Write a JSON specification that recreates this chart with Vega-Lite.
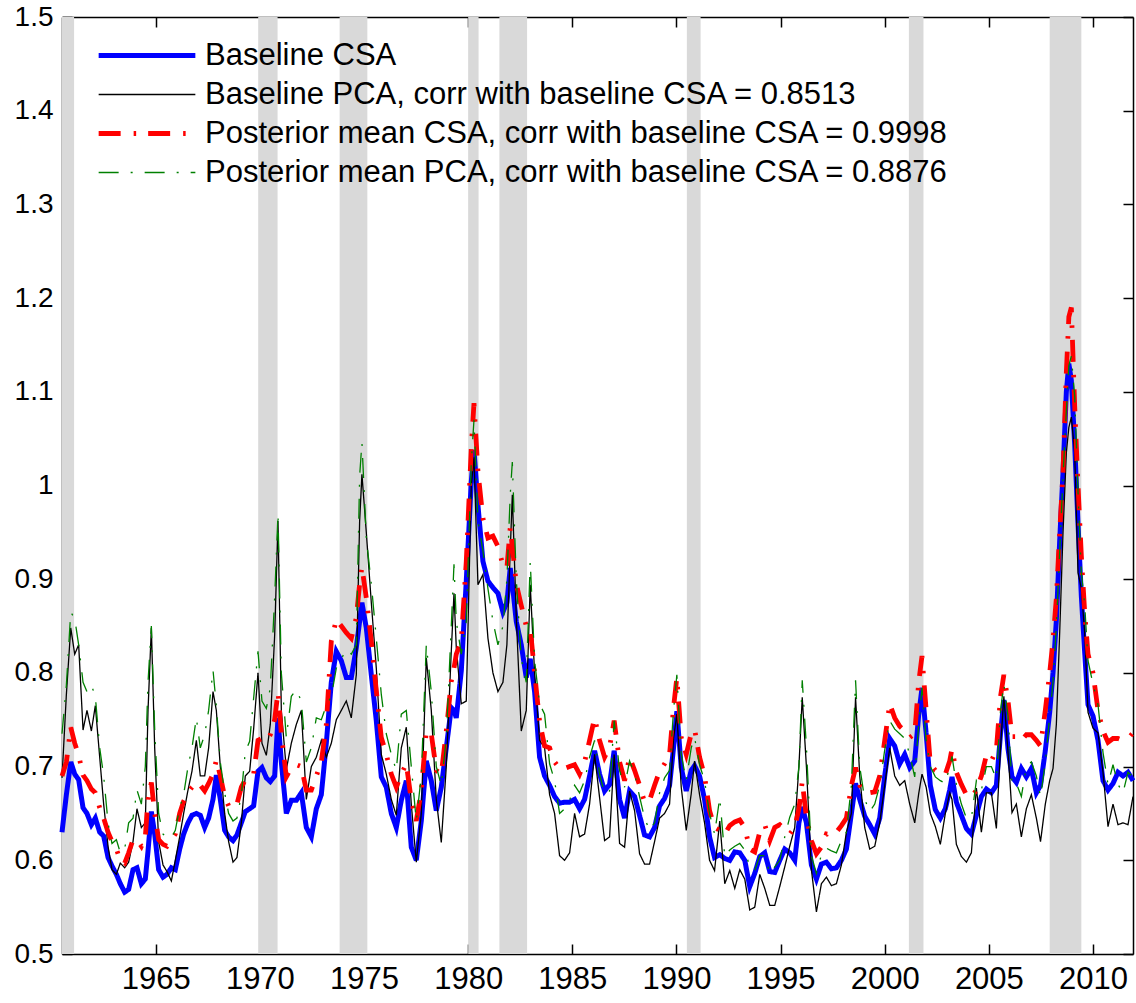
{
  "$schema": "https://vega.github.io/schema/vega-lite/v6.json",
  "width": 1071,
  "height": 937,
  "autosize": {"type": "none"},
  "padding": {"left": 62, "top": 17, "right": 3, "bottom": 49},
  "background": "white",
  "config": {
    "font": "Liberation Sans",
    "view": {"stroke": null},
    "axis": {
      "grid": false,
      "title": null,
      "domainColor": "black",
      "domainWidth": 1.5,
      "tickColor": "black",
      "tickWidth": 1.5,
      "tickSize": -10,
      "labelColor": "black",
      "labelFontSize": 31,
      "labelFont": "Liberation Sans"
    },
    "legend": {
      "orient": "none",
      "legendX": 34,
      "legendY": 19,
      "padding": 0,
      "symbolType": "stroke",
      "symbolSize": 9350,
      "clipHeight": 39,
      "rowPadding": 0,
      "labelFontSize": 31,
      "labelFont": "Liberation Sans",
      "labelColor": "black",
      "labelOffset": 7,
      "labelLimit": 1000
    }
  },
  "datasets": {
    "recessions": [
      {"s": 1960.5, "e": 1961.08},
      {"s": 1969.92, "e": 1970.85},
      {"s": 1973.83, "e": 1975.16},
      {"s": 1980.0, "e": 1980.5},
      {"s": 1981.5, "e": 1982.83},
      {"s": 1990.5, "e": 1991.16},
      {"s": 2001.16, "e": 2001.86},
      {"s": 2007.92, "e": 2009.44}
    ],
    "stress": [
      {"t": 1960.5, "csa": 0.630, "pca": 0.688, "pcsa": 0.690, "ppca": 0.735},
      {"t": 1960.71, "csa": 0.670, "pca": 0.777, "pcsa": 0.705, "ppca": 0.787},
      {"t": 1960.92, "csa": 0.705, "pca": 0.848, "pcsa": 0.742, "ppca": 0.865},
      {"t": 1961.11, "csa": 0.692, "pca": 0.820, "pcsa": 0.725, "ppca": 0.858},
      {"t": 1961.3, "csa": 0.686, "pca": 0.830, "pcsa": 0.712, "ppca": 0.830},
      {"t": 1961.51, "csa": 0.656, "pca": 0.739, "pcsa": 0.691, "ppca": 0.790},
      {"t": 1961.7, "csa": 0.650, "pca": 0.760, "pcsa": 0.685, "ppca": 0.780},
      {"t": 1961.91, "csa": 0.638, "pca": 0.738, "pcsa": 0.676, "ppca": 0.787},
      {"t": 1962.1, "csa": 0.645, "pca": 0.765, "pcsa": 0.672, "ppca": 0.775},
      {"t": 1962.31, "csa": 0.630, "pca": 0.710, "pcsa": 0.656, "ppca": 0.720},
      {"t": 1962.5, "csa": 0.626, "pca": 0.660, "pcsa": 0.645, "ppca": 0.690},
      {"t": 1962.71, "csa": 0.603, "pca": 0.615, "pcsa": 0.630, "ppca": 0.640},
      {"t": 1962.9, "csa": 0.594, "pca": 0.590, "pcsa": 0.620, "ppca": 0.618},
      {"t": 1963.11, "csa": 0.585, "pca": 0.585, "pcsa": 0.612, "ppca": 0.622},
      {"t": 1963.3, "csa": 0.575, "pca": 0.597, "pcsa": 0.600, "ppca": 0.608},
      {"t": 1963.51, "csa": 0.566, "pca": 0.592, "pcsa": 0.597, "ppca": 0.612},
      {"t": 1963.7, "csa": 0.569, "pca": 0.598, "pcsa": 0.608, "ppca": 0.640},
      {"t": 1963.91, "csa": 0.590, "pca": 0.620, "pcsa": 0.622, "ppca": 0.645},
      {"t": 1964.1, "csa": 0.592, "pca": 0.655, "pcsa": 0.622, "ppca": 0.675},
      {"t": 1964.31, "csa": 0.575, "pca": 0.635, "pcsa": 0.615, "ppca": 0.660},
      {"t": 1964.5, "csa": 0.580, "pca": 0.640, "pcsa": 0.625, "ppca": 0.700},
      {"t": 1964.63, "csa": 0.610, "pca": 0.760, "pcsa": 0.665, "ppca": 0.790},
      {"t": 1964.79, "csa": 0.652, "pca": 0.848, "pcsa": 0.683, "ppca": 0.850},
      {"t": 1964.95, "csa": 0.628, "pca": 0.720, "pcsa": 0.650, "ppca": 0.740},
      {"t": 1965.14, "csa": 0.590, "pca": 0.620, "pcsa": 0.622, "ppca": 0.650},
      {"t": 1965.35, "csa": 0.582, "pca": 0.595, "pcsa": 0.617, "ppca": 0.628},
      {"t": 1965.54, "csa": 0.585, "pca": 0.588, "pcsa": 0.615, "ppca": 0.624},
      {"t": 1965.75, "csa": 0.592, "pca": 0.578, "pcsa": 0.622, "ppca": 0.624},
      {"t": 1965.94, "csa": 0.590, "pca": 0.600, "pcsa": 0.628, "ppca": 0.632},
      {"t": 1966.15, "csa": 0.612, "pca": 0.625, "pcsa": 0.650, "ppca": 0.656},
      {"t": 1966.34, "csa": 0.628, "pca": 0.650, "pcsa": 0.663, "ppca": 0.670},
      {"t": 1966.55, "csa": 0.640, "pca": 0.675, "pcsa": 0.672, "ppca": 0.700},
      {"t": 1966.74, "csa": 0.648, "pca": 0.695, "pcsa": 0.678, "ppca": 0.720},
      {"t": 1966.95, "csa": 0.650, "pca": 0.728, "pcsa": 0.683, "ppca": 0.752},
      {"t": 1967.14, "csa": 0.648, "pca": 0.690, "pcsa": 0.680, "ppca": 0.720},
      {"t": 1967.35, "csa": 0.635, "pca": 0.690, "pcsa": 0.674, "ppca": 0.734},
      {"t": 1967.54, "csa": 0.645, "pca": 0.720, "pcsa": 0.682, "ppca": 0.760},
      {"t": 1967.75, "csa": 0.665, "pca": 0.780, "pcsa": 0.692, "ppca": 0.803},
      {"t": 1967.91, "csa": 0.691, "pca": 0.760, "pcsa": 0.707, "ppca": 0.765},
      {"t": 1968.1, "csa": 0.665, "pca": 0.700, "pcsa": 0.690, "ppca": 0.705},
      {"t": 1968.31, "csa": 0.632, "pca": 0.650, "pcsa": 0.668, "ppca": 0.672},
      {"t": 1968.5, "csa": 0.625, "pca": 0.620, "pcsa": 0.658, "ppca": 0.650},
      {"t": 1968.71, "csa": 0.621, "pca": 0.598, "pcsa": 0.656, "ppca": 0.642},
      {"t": 1968.9, "csa": 0.627, "pca": 0.603, "pcsa": 0.660, "ppca": 0.645},
      {"t": 1969.11, "csa": 0.640, "pca": 0.640, "pcsa": 0.678, "ppca": 0.670},
      {"t": 1969.3, "csa": 0.652, "pca": 0.690, "pcsa": 0.686, "ppca": 0.716},
      {"t": 1969.51, "csa": 0.655, "pca": 0.695, "pcsa": 0.690, "ppca": 0.727},
      {"t": 1969.7, "csa": 0.658, "pca": 0.740, "pcsa": 0.692, "ppca": 0.773},
      {"t": 1969.91, "csa": 0.695, "pca": 0.800, "pcsa": 0.728, "ppca": 0.823},
      {"t": 1970.1, "csa": 0.699, "pca": 0.725, "pcsa": 0.730, "ppca": 0.770},
      {"t": 1970.31, "csa": 0.688, "pca": 0.712, "pcsa": 0.727, "ppca": 0.762},
      {"t": 1970.5, "csa": 0.684, "pca": 0.745, "pcsa": 0.734, "ppca": 0.784},
      {"t": 1970.71, "csa": 0.690, "pca": 0.840, "pcsa": 0.750, "ppca": 0.880},
      {"t": 1970.87, "csa": 0.752, "pca": 0.962, "pcsa": 0.780, "ppca": 0.970},
      {"t": 1971.03, "csa": 0.705, "pca": 0.760, "pcsa": 0.735, "ppca": 0.800},
      {"t": 1971.27, "csa": 0.650, "pca": 0.697, "pcsa": 0.689, "ppca": 0.731},
      {"t": 1971.51, "csa": 0.664, "pca": 0.725, "pcsa": 0.699, "ppca": 0.775},
      {"t": 1971.75, "csa": 0.664, "pca": 0.745, "pcsa": 0.702, "ppca": 0.782},
      {"t": 1971.99, "csa": 0.672, "pca": 0.760, "pcsa": 0.700, "ppca": 0.770},
      {"t": 1972.23, "csa": 0.635, "pca": 0.665, "pcsa": 0.675, "ppca": 0.705},
      {"t": 1972.47, "csa": 0.625, "pca": 0.700, "pcsa": 0.675, "ppca": 0.720},
      {"t": 1972.71, "csa": 0.655, "pca": 0.710, "pcsa": 0.690, "ppca": 0.752},
      {"t": 1972.95, "csa": 0.670, "pca": 0.728, "pcsa": 0.705, "ppca": 0.750},
      {"t": 1973.19, "csa": 0.725, "pca": 0.710, "pcsa": 0.745, "ppca": 0.765},
      {"t": 1973.43, "csa": 0.790, "pca": 0.725, "pcsa": 0.834, "ppca": 0.775},
      {"t": 1973.67, "csa": 0.823, "pca": 0.750, "pcsa": 0.857, "ppca": 0.805},
      {"t": 1973.91, "csa": 0.813, "pca": 0.760, "pcsa": 0.850, "ppca": 0.815},
      {"t": 1974.15, "csa": 0.795, "pca": 0.770, "pcsa": 0.843, "ppca": 0.825},
      {"t": 1974.39, "csa": 0.795, "pca": 0.752, "pcsa": 0.837, "ppca": 0.820},
      {"t": 1974.63, "csa": 0.827, "pca": 0.798, "pcsa": 0.859, "ppca": 0.830},
      {"t": 1974.79, "csa": 0.855, "pca": 0.962, "pcsa": 0.895, "ppca": 1.010},
      {"t": 1974.9, "csa": 0.875, "pca": 1.012, "pcsa": 0.913, "ppca": 1.046},
      {"t": 1975.11, "csa": 0.848, "pca": 0.950, "pcsa": 0.880, "ppca": 0.944},
      {"t": 1975.35, "csa": 0.798, "pca": 0.875, "pcsa": 0.834, "ppca": 0.895},
      {"t": 1975.59, "csa": 0.749, "pca": 0.805, "pcsa": 0.781, "ppca": 0.837},
      {"t": 1975.83, "csa": 0.689, "pca": 0.713, "pcsa": 0.731, "ppca": 0.777},
      {"t": 1976.07, "csa": 0.678, "pca": 0.692, "pcsa": 0.713, "ppca": 0.735},
      {"t": 1976.31, "csa": 0.650, "pca": 0.665, "pcsa": 0.692, "ppca": 0.713},
      {"t": 1976.55, "csa": 0.635, "pca": 0.648, "pcsa": 0.678, "ppca": 0.696},
      {"t": 1976.79, "csa": 0.664, "pca": 0.720, "pcsa": 0.692, "ppca": 0.756},
      {"t": 1977.03, "csa": 0.685, "pca": 0.742, "pcsa": 0.703, "ppca": 0.760},
      {"t": 1977.27, "csa": 0.614, "pca": 0.660, "pcsa": 0.664, "ppca": 0.700},
      {"t": 1977.51, "csa": 0.600, "pca": 0.598, "pcsa": 0.642, "ppca": 0.642},
      {"t": 1977.75, "csa": 0.642, "pca": 0.650, "pcsa": 0.674, "ppca": 0.690},
      {"t": 1977.99, "csa": 0.706, "pca": 0.816, "pcsa": 0.738, "ppca": 0.830},
      {"t": 1978.23, "csa": 0.685, "pca": 0.760, "pcsa": 0.735, "ppca": 0.780},
      {"t": 1978.47, "csa": 0.653, "pca": 0.665, "pcsa": 0.696, "ppca": 0.700},
      {"t": 1978.71, "csa": 0.678, "pca": 0.619, "pcsa": 0.692, "ppca": 0.680},
      {"t": 1978.95, "csa": 0.720, "pca": 0.700, "pcsa": 0.738, "ppca": 0.730},
      {"t": 1979.19, "csa": 0.763, "pca": 0.823, "pcsa": 0.791, "ppca": 0.850},
      {"t": 1979.32, "csa": 0.760, "pca": 0.885, "pcsa": 0.805, "ppca": 0.916},
      {"t": 1979.43, "csa": 0.752, "pca": 0.827, "pcsa": 0.820, "ppca": 0.855},
      {"t": 1979.67, "csa": 0.802, "pca": 0.767, "pcsa": 0.834, "ppca": 0.820},
      {"t": 1979.91, "csa": 0.898, "pca": 0.770, "pcsa": 0.919, "ppca": 0.855},
      {"t": 1980.15, "csa": 1.004, "pca": 1.000, "pcsa": 1.040, "ppca": 1.025},
      {"t": 1980.28, "csa": 1.038, "pca": 1.030, "pcsa": 1.088, "ppca": 1.070},
      {"t": 1980.47, "csa": 0.979, "pca": 0.894, "pcsa": 1.015, "ppca": 0.962},
      {"t": 1980.71, "csa": 0.919, "pca": 0.905, "pcsa": 0.965, "ppca": 0.930},
      {"t": 1980.95, "csa": 0.898, "pca": 0.837, "pcsa": 0.944, "ppca": 0.890},
      {"t": 1981.19, "csa": 0.891, "pca": 0.800, "pcsa": 0.946, "ppca": 0.855},
      {"t": 1981.43, "csa": 0.885, "pca": 0.780, "pcsa": 0.935, "ppca": 0.830},
      {"t": 1981.67, "csa": 0.865, "pca": 0.790, "pcsa": 0.915, "ppca": 0.850},
      {"t": 1981.86, "csa": 0.875, "pca": 0.830, "pcsa": 0.912, "ppca": 0.900},
      {"t": 1982.02, "csa": 0.912, "pca": 0.930, "pcsa": 0.955, "ppca": 0.990},
      {"t": 1982.12, "csa": 0.895, "pca": 0.990, "pcsa": 0.935, "ppca": 1.025},
      {"t": 1982.31, "csa": 0.855, "pca": 0.860, "pcsa": 0.895, "ppca": 0.900},
      {"t": 1982.55, "csa": 0.830, "pca": 0.738, "pcsa": 0.872, "ppca": 0.815},
      {"t": 1982.79, "csa": 0.795, "pca": 0.760, "pcsa": 0.850, "ppca": 0.790},
      {"t": 1982.98, "csa": 0.815, "pca": 0.894, "pcsa": 0.848, "ppca": 0.919},
      {"t": 1983.19, "csa": 0.780, "pca": 0.800, "pcsa": 0.800, "ppca": 0.813},
      {"t": 1983.43, "csa": 0.710, "pca": 0.728, "pcsa": 0.748, "ppca": 0.767},
      {"t": 1983.67, "csa": 0.690, "pca": 0.720, "pcsa": 0.722, "ppca": 0.756},
      {"t": 1983.91, "csa": 0.680, "pca": 0.670, "pcsa": 0.720, "ppca": 0.703},
      {"t": 1984.15, "csa": 0.668, "pca": 0.650, "pcsa": 0.705, "ppca": 0.685},
      {"t": 1984.39, "csa": 0.661, "pca": 0.605, "pcsa": 0.698, "ppca": 0.650},
      {"t": 1984.63, "csa": 0.662, "pca": 0.600, "pcsa": 0.698, "ppca": 0.655},
      {"t": 1984.87, "csa": 0.662, "pca": 0.608, "pcsa": 0.700, "ppca": 0.664},
      {"t": 1985.11, "csa": 0.665, "pca": 0.650, "pcsa": 0.702, "ppca": 0.680},
      {"t": 1985.35, "csa": 0.655, "pca": 0.625, "pcsa": 0.692, "ppca": 0.672},
      {"t": 1985.59, "csa": 0.665, "pca": 0.628, "pcsa": 0.705, "ppca": 0.685},
      {"t": 1985.83, "csa": 0.690, "pca": 0.660, "pcsa": 0.728, "ppca": 0.710},
      {"t": 1986.07, "csa": 0.717, "pca": 0.713, "pcsa": 0.752, "ppca": 0.728},
      {"t": 1986.31, "csa": 0.692, "pca": 0.667, "pcsa": 0.728, "ppca": 0.692},
      {"t": 1986.55, "csa": 0.674, "pca": 0.621, "pcsa": 0.710, "ppca": 0.671},
      {"t": 1986.79, "csa": 0.681, "pca": 0.625, "pcsa": 0.721, "ppca": 0.674},
      {"t": 1987.01, "csa": 0.717, "pca": 0.713, "pcsa": 0.749, "ppca": 0.749},
      {"t": 1987.27, "csa": 0.665, "pca": 0.618, "pcsa": 0.705, "ppca": 0.696},
      {"t": 1987.51, "csa": 0.645, "pca": 0.614, "pcsa": 0.685, "ppca": 0.678},
      {"t": 1987.75, "csa": 0.674, "pca": 0.674, "pcsa": 0.710, "ppca": 0.706},
      {"t": 1987.99, "csa": 0.668, "pca": 0.653, "pcsa": 0.696, "ppca": 0.692},
      {"t": 1988.23, "csa": 0.648, "pca": 0.607, "pcsa": 0.680, "ppca": 0.668},
      {"t": 1988.47, "csa": 0.627, "pca": 0.596, "pcsa": 0.662, "ppca": 0.645},
      {"t": 1988.71, "csa": 0.625, "pca": 0.596, "pcsa": 0.664, "ppca": 0.632},
      {"t": 1988.95, "csa": 0.635, "pca": 0.620, "pcsa": 0.680, "ppca": 0.640},
      {"t": 1989.19, "csa": 0.658, "pca": 0.645, "pcsa": 0.695, "ppca": 0.672},
      {"t": 1989.43, "csa": 0.666, "pca": 0.650, "pcsa": 0.703, "ppca": 0.688},
      {"t": 1989.67, "csa": 0.680, "pca": 0.660, "pcsa": 0.713, "ppca": 0.696},
      {"t": 1989.86, "csa": 0.720, "pca": 0.730, "pcsa": 0.763, "ppca": 0.760},
      {"t": 1990.02, "csa": 0.759, "pca": 0.756, "pcsa": 0.795, "ppca": 0.798},
      {"t": 1990.23, "csa": 0.699, "pca": 0.678, "pcsa": 0.731, "ppca": 0.713},
      {"t": 1990.47, "csa": 0.674, "pca": 0.632, "pcsa": 0.713, "ppca": 0.685},
      {"t": 1990.71, "csa": 0.696, "pca": 0.671, "pcsa": 0.735, "ppca": 0.720},
      {"t": 1990.87, "csa": 0.701, "pca": 0.706, "pcsa": 0.740, "ppca": 0.731},
      {"t": 1991.11, "csa": 0.690, "pca": 0.670, "pcsa": 0.710, "ppca": 0.702},
      {"t": 1991.35, "csa": 0.665, "pca": 0.640, "pcsa": 0.690, "ppca": 0.685},
      {"t": 1991.59, "csa": 0.625, "pca": 0.600, "pcsa": 0.653, "ppca": 0.650},
      {"t": 1991.83, "csa": 0.603, "pca": 0.589, "pcsa": 0.635, "ppca": 0.628},
      {"t": 1992.08, "csa": 0.606, "pca": 0.642, "pcsa": 0.632, "ppca": 0.667},
      {"t": 1992.32, "csa": 0.602, "pca": 0.575, "pcsa": 0.628, "ppca": 0.604},
      {"t": 1992.56, "csa": 0.600, "pca": 0.589, "pcsa": 0.637, "ppca": 0.611},
      {"t": 1992.8, "csa": 0.609, "pca": 0.570, "pcsa": 0.641, "ppca": 0.615},
      {"t": 1993.04, "csa": 0.608, "pca": 0.590, "pcsa": 0.643, "ppca": 0.618},
      {"t": 1993.28, "csa": 0.600, "pca": 0.580, "pcsa": 0.635, "ppca": 0.611},
      {"t": 1993.52, "csa": 0.572, "pca": 0.547, "pcsa": 0.612, "ppca": 0.593},
      {"t": 1993.76, "csa": 0.586, "pca": 0.550, "pcsa": 0.609, "ppca": 0.589},
      {"t": 1994.0, "csa": 0.604, "pca": 0.585, "pcsa": 0.630, "ppca": 0.605},
      {"t": 1994.24, "csa": 0.608, "pca": 0.570, "pcsa": 0.638, "ppca": 0.605},
      {"t": 1994.48, "csa": 0.588, "pca": 0.552, "pcsa": 0.621, "ppca": 0.586},
      {"t": 1994.72, "csa": 0.587, "pca": 0.552, "pcsa": 0.635, "ppca": 0.593},
      {"t": 1994.96, "csa": 0.600, "pca": 0.572, "pcsa": 0.638, "ppca": 0.600},
      {"t": 1995.2, "csa": 0.612, "pca": 0.593, "pcsa": 0.633, "ppca": 0.625},
      {"t": 1995.44, "csa": 0.608, "pca": 0.615, "pcsa": 0.628, "ppca": 0.646},
      {"t": 1995.68, "csa": 0.600, "pca": 0.635, "pcsa": 0.635, "ppca": 0.660},
      {"t": 1995.88, "csa": 0.640, "pca": 0.700, "pcsa": 0.655, "ppca": 0.700},
      {"t": 1996.04, "csa": 0.657, "pca": 0.774, "pcsa": 0.684, "ppca": 0.792},
      {"t": 1996.24, "csa": 0.640, "pca": 0.700, "pcsa": 0.646, "ppca": 0.721},
      {"t": 1996.48, "csa": 0.595, "pca": 0.590, "pcsa": 0.621, "ppca": 0.605},
      {"t": 1996.72, "csa": 0.580, "pca": 0.545, "pcsa": 0.607, "ppca": 0.586},
      {"t": 1996.96, "csa": 0.596, "pca": 0.575, "pcsa": 0.614, "ppca": 0.606},
      {"t": 1997.2, "csa": 0.598, "pca": 0.582, "pcsa": 0.628, "ppca": 0.613},
      {"t": 1997.44, "csa": 0.591, "pca": 0.573, "pcsa": 0.627, "ppca": 0.610},
      {"t": 1997.68, "csa": 0.592, "pca": 0.575, "pcsa": 0.630, "ppca": 0.608},
      {"t": 1997.92, "csa": 0.600, "pca": 0.595, "pcsa": 0.637, "ppca": 0.621},
      {"t": 1998.16, "csa": 0.612, "pca": 0.630, "pcsa": 0.645, "ppca": 0.630},
      {"t": 1998.4, "csa": 0.650, "pca": 0.650, "pcsa": 0.680, "ppca": 0.680},
      {"t": 1998.6, "csa": 0.682, "pca": 0.774, "pcsa": 0.699, "ppca": 0.792},
      {"t": 1998.8, "csa": 0.665, "pca": 0.690, "pcsa": 0.680, "ppca": 0.700},
      {"t": 1999.04, "csa": 0.647, "pca": 0.635, "pcsa": 0.673, "ppca": 0.665},
      {"t": 1999.28, "csa": 0.638, "pca": 0.612, "pcsa": 0.672, "ppca": 0.652},
      {"t": 1999.52, "csa": 0.628, "pca": 0.615, "pcsa": 0.673, "ppca": 0.660},
      {"t": 1999.76, "csa": 0.645, "pca": 0.640, "pcsa": 0.690, "ppca": 0.680},
      {"t": 2000.0, "csa": 0.690, "pca": 0.680, "pcsa": 0.728, "ppca": 0.718},
      {"t": 2000.24, "csa": 0.730, "pca": 0.720, "pcsa": 0.767, "ppca": 0.749},
      {"t": 2000.48, "csa": 0.722, "pca": 0.690, "pcsa": 0.752, "ppca": 0.740},
      {"t": 2000.72, "csa": 0.703, "pca": 0.680, "pcsa": 0.743, "ppca": 0.735},
      {"t": 2000.96, "csa": 0.713, "pca": 0.685, "pcsa": 0.738, "ppca": 0.730},
      {"t": 2001.2, "csa": 0.699, "pca": 0.660, "pcsa": 0.731, "ppca": 0.713},
      {"t": 2001.44, "csa": 0.706, "pca": 0.640, "pcsa": 0.735, "ppca": 0.689},
      {"t": 2001.63, "csa": 0.755, "pca": 0.671, "pcsa": 0.790, "ppca": 0.745},
      {"t": 2001.79, "csa": 0.784, "pca": 0.692, "pcsa": 0.818, "ppca": 0.784},
      {"t": 2001.99, "csa": 0.735, "pca": 0.678, "pcsa": 0.760, "ppca": 0.728},
      {"t": 2002.19, "csa": 0.680, "pca": 0.650, "pcsa": 0.703, "ppca": 0.700},
      {"t": 2002.43, "csa": 0.654, "pca": 0.636, "pcsa": 0.696, "ppca": 0.689},
      {"t": 2002.67, "csa": 0.645, "pca": 0.617, "pcsa": 0.693, "ppca": 0.685},
      {"t": 2002.91, "csa": 0.655, "pca": 0.650, "pcsa": 0.692, "ppca": 0.682},
      {"t": 2003.12, "csa": 0.675, "pca": 0.672, "pcsa": 0.706, "ppca": 0.700},
      {"t": 2003.23, "csa": 0.689, "pca": 0.665, "pcsa": 0.719, "ppca": 0.711},
      {"t": 2003.44, "csa": 0.662, "pca": 0.617, "pcsa": 0.694, "ppca": 0.681},
      {"t": 2003.68, "csa": 0.648, "pca": 0.604, "pcsa": 0.681, "ppca": 0.660},
      {"t": 2003.92, "csa": 0.634, "pca": 0.598, "pcsa": 0.670, "ppca": 0.645},
      {"t": 2004.16, "csa": 0.628, "pca": 0.608, "pcsa": 0.667, "ppca": 0.645},
      {"t": 2004.4, "csa": 0.648, "pca": 0.677, "pcsa": 0.675, "ppca": 0.685},
      {"t": 2004.64, "csa": 0.668, "pca": 0.630, "pcsa": 0.690, "ppca": 0.675},
      {"t": 2004.88, "csa": 0.676, "pca": 0.672, "pcsa": 0.712, "ppca": 0.700},
      {"t": 2005.12, "csa": 0.672, "pca": 0.672, "pcsa": 0.706, "ppca": 0.700},
      {"t": 2005.36, "csa": 0.680, "pca": 0.634, "pcsa": 0.718, "ppca": 0.687},
      {"t": 2005.56, "csa": 0.735, "pca": 0.720, "pcsa": 0.775, "ppca": 0.760},
      {"t": 2005.72, "csa": 0.771, "pca": 0.775, "pcsa": 0.798, "ppca": 0.788},
      {"t": 2005.92, "csa": 0.719, "pca": 0.715, "pcsa": 0.770, "ppca": 0.754},
      {"t": 2006.11, "csa": 0.689, "pca": 0.651, "pcsa": 0.732, "ppca": 0.681},
      {"t": 2006.32, "csa": 0.683, "pca": 0.660, "pcsa": 0.732, "ppca": 0.682},
      {"t": 2006.56, "csa": 0.698, "pca": 0.625, "pcsa": 0.728, "ppca": 0.668},
      {"t": 2006.8, "csa": 0.689, "pca": 0.655, "pcsa": 0.734, "ppca": 0.700},
      {"t": 2007.04, "csa": 0.698, "pca": 0.670, "pcsa": 0.734, "ppca": 0.705},
      {"t": 2007.28, "csa": 0.672, "pca": 0.645, "pcsa": 0.728, "ppca": 0.690},
      {"t": 2007.48, "csa": 0.680, "pca": 0.620, "pcsa": 0.722, "ppca": 0.668},
      {"t": 2007.71, "csa": 0.717, "pca": 0.660, "pcsa": 0.760, "ppca": 0.704},
      {"t": 2007.92, "csa": 0.758, "pca": 0.685, "pcsa": 0.800, "ppca": 0.754},
      {"t": 2008.08, "csa": 0.800, "pca": 0.698, "pcsa": 0.835, "ppca": 0.790},
      {"t": 2008.24, "csa": 0.856, "pca": 0.745, "pcsa": 0.880, "ppca": 0.850},
      {"t": 2008.4, "csa": 0.941, "pca": 0.843, "pcsa": 0.950, "ppca": 0.929},
      {"t": 2008.56, "csa": 1.014, "pca": 0.950, "pcsa": 1.014, "ppca": 1.010},
      {"t": 2008.72, "csa": 1.100, "pca": 1.035, "pcsa": 1.121, "ppca": 1.080},
      {"t": 2008.84, "csa": 1.130, "pca": 1.062, "pcsa": 1.180, "ppca": 1.128},
      {"t": 2008.96, "csa": 1.112, "pca": 1.073, "pcsa": 1.190, "ppca": 1.138},
      {"t": 2009.12, "csa": 1.044, "pca": 1.035, "pcsa": 1.085, "ppca": 1.095},
      {"t": 2009.28, "csa": 0.959, "pca": 0.907, "pcsa": 1.000, "ppca": 0.993},
      {"t": 2009.44, "csa": 0.882, "pca": 0.890, "pcsa": 0.925, "ppca": 0.907},
      {"t": 2009.6, "csa": 0.822, "pca": 0.843, "pcsa": 0.865, "ppca": 0.873},
      {"t": 2009.76, "csa": 0.766, "pca": 0.758, "pcsa": 0.820, "ppca": 0.813},
      {"t": 2010.0, "csa": 0.754, "pca": 0.741, "pcsa": 0.800, "ppca": 0.788},
      {"t": 2010.24, "csa": 0.728, "pca": 0.736, "pcsa": 0.760, "ppca": 0.766},
      {"t": 2010.48, "csa": 0.685, "pca": 0.694, "pcsa": 0.738, "ppca": 0.715},
      {"t": 2010.72, "csa": 0.675, "pca": 0.636, "pcsa": 0.726, "ppca": 0.681},
      {"t": 2010.96, "csa": 0.682, "pca": 0.660, "pcsa": 0.730, "ppca": 0.702},
      {"t": 2011.2, "csa": 0.694, "pca": 0.638, "pcsa": 0.730, "ppca": 0.681},
      {"t": 2011.44, "csa": 0.690, "pca": 0.640, "pcsa": 0.728, "ppca": 0.672},
      {"t": 2011.68, "csa": 0.694, "pca": 0.638, "pcsa": 0.730, "ppca": 0.694},
      {"t": 2011.92, "csa": 0.685, "pca": 0.668, "pcsa": 0.736, "ppca": 0.689}
    ]
  },
  "layer": [
    {
      "data": {"name": "recessions"},
      "mark": {"type": "rect", "color": "#d9d9d9"},
      "encoding": {
        "x": {
          "field": "s",
          "type": "quantitative",
          "scale": {"domain": [1960.5, 2011.92], "nice": false, "zero": false},
          "axis": {
            "orient": "bottom",
            "values": [1965, 1970, 1975, 1980, 1985, 1990, 1995, 2000, 2005, 2010],
            "format": "d",
            "labelPadding": 20
          }
        },
        "x2": {"field": "e"},
        "y": {
          "datum": 0.5,
          "type": "quantitative",
          "scale": {"domain": [0.5, 1.5], "nice": false, "zero": false},
          "axis": {
            "orient": "left",
            "values": [0.5, 0.6, 0.7, 0.8, 0.9, 1, 1.1, 1.2, 1.3, 1.4, 1.5],
            "format": "~g",
            "labelFontSize": 28,
            "labelPadding": 19
          }
        },
        "y2": {"datum": 1.5}
      }
    },
    {
      "data": {"name": "stress"},
      "transform": [
        {"fold": ["csa", "pca", "pcsa", "ppca"], "as": ["series", "value"]}
      ],
      "mark": {"type": "line", "interpolate": "linear"},
      "encoding": {
        "x": {
          "field": "t",
          "type": "quantitative",
          "scale": {"domain": [1960.5, 2011.92], "nice": false, "zero": false},
          "axis": {
            "orient": "top",
            "labels": false,
            "values": [1965, 1970, 1975, 1980, 1985, 1990, 1995, 2000, 2005, 2010]
          }
        },
        "y": {
          "field": "value",
          "type": "quantitative",
          "scale": {"domain": [0.5, 1.5], "nice": false, "zero": false},
          "axis": {
            "orient": "right",
            "labels": false,
            "values": [0.5, 0.6, 0.7, 0.8, 0.9, 1, 1.1, 1.2, 1.3, 1.4, 1.5]
          }
        },
        "color": {
          "field": "series",
          "type": "nominal",
          "scale": {
            "domain": ["csa", "pca", "pcsa", "ppca"],
            "range": ["#0000ff", "#000000", "#ff0000", "#008000"]
          },
          "legend": {
            "title": null,
            "labelExpr": "datum.label == 'csa' ? 'Baseline CSA' : datum.label == 'pca' ? 'Baseline PCA, corr with baseline CSA = 0.8513' : datum.label == 'pcsa' ? 'Posterior mean CSA, corr with baseline CSA = 0.9998' : 'Posterior mean PCA, corr with baseline CSA = 0.8876'"
          }
        },
        "strokeDash": {
          "field": "series",
          "type": "nominal",
          "scale": {
            "domain": ["csa", "pca", "pcsa", "ppca"],
            "range": [[1, 0], [1, 0], [22, 13, 2.5, 12], [20, 12, 2, 12]]
          },
          "legend": {"title": null}
        },
        "strokeWidth": {
          "field": "series",
          "type": "nominal",
          "scale": {
            "type": "ordinal",
            "domain": ["csa", "pca", "pcsa", "ppca"],
            "range": [5, 1.3, 4.8, 1.3]
          },
          "legend": {"title": null}
        }
      }
    }
  ],
  "resolve": {"axis": {"x": "independent", "y": "independent"}}
}
